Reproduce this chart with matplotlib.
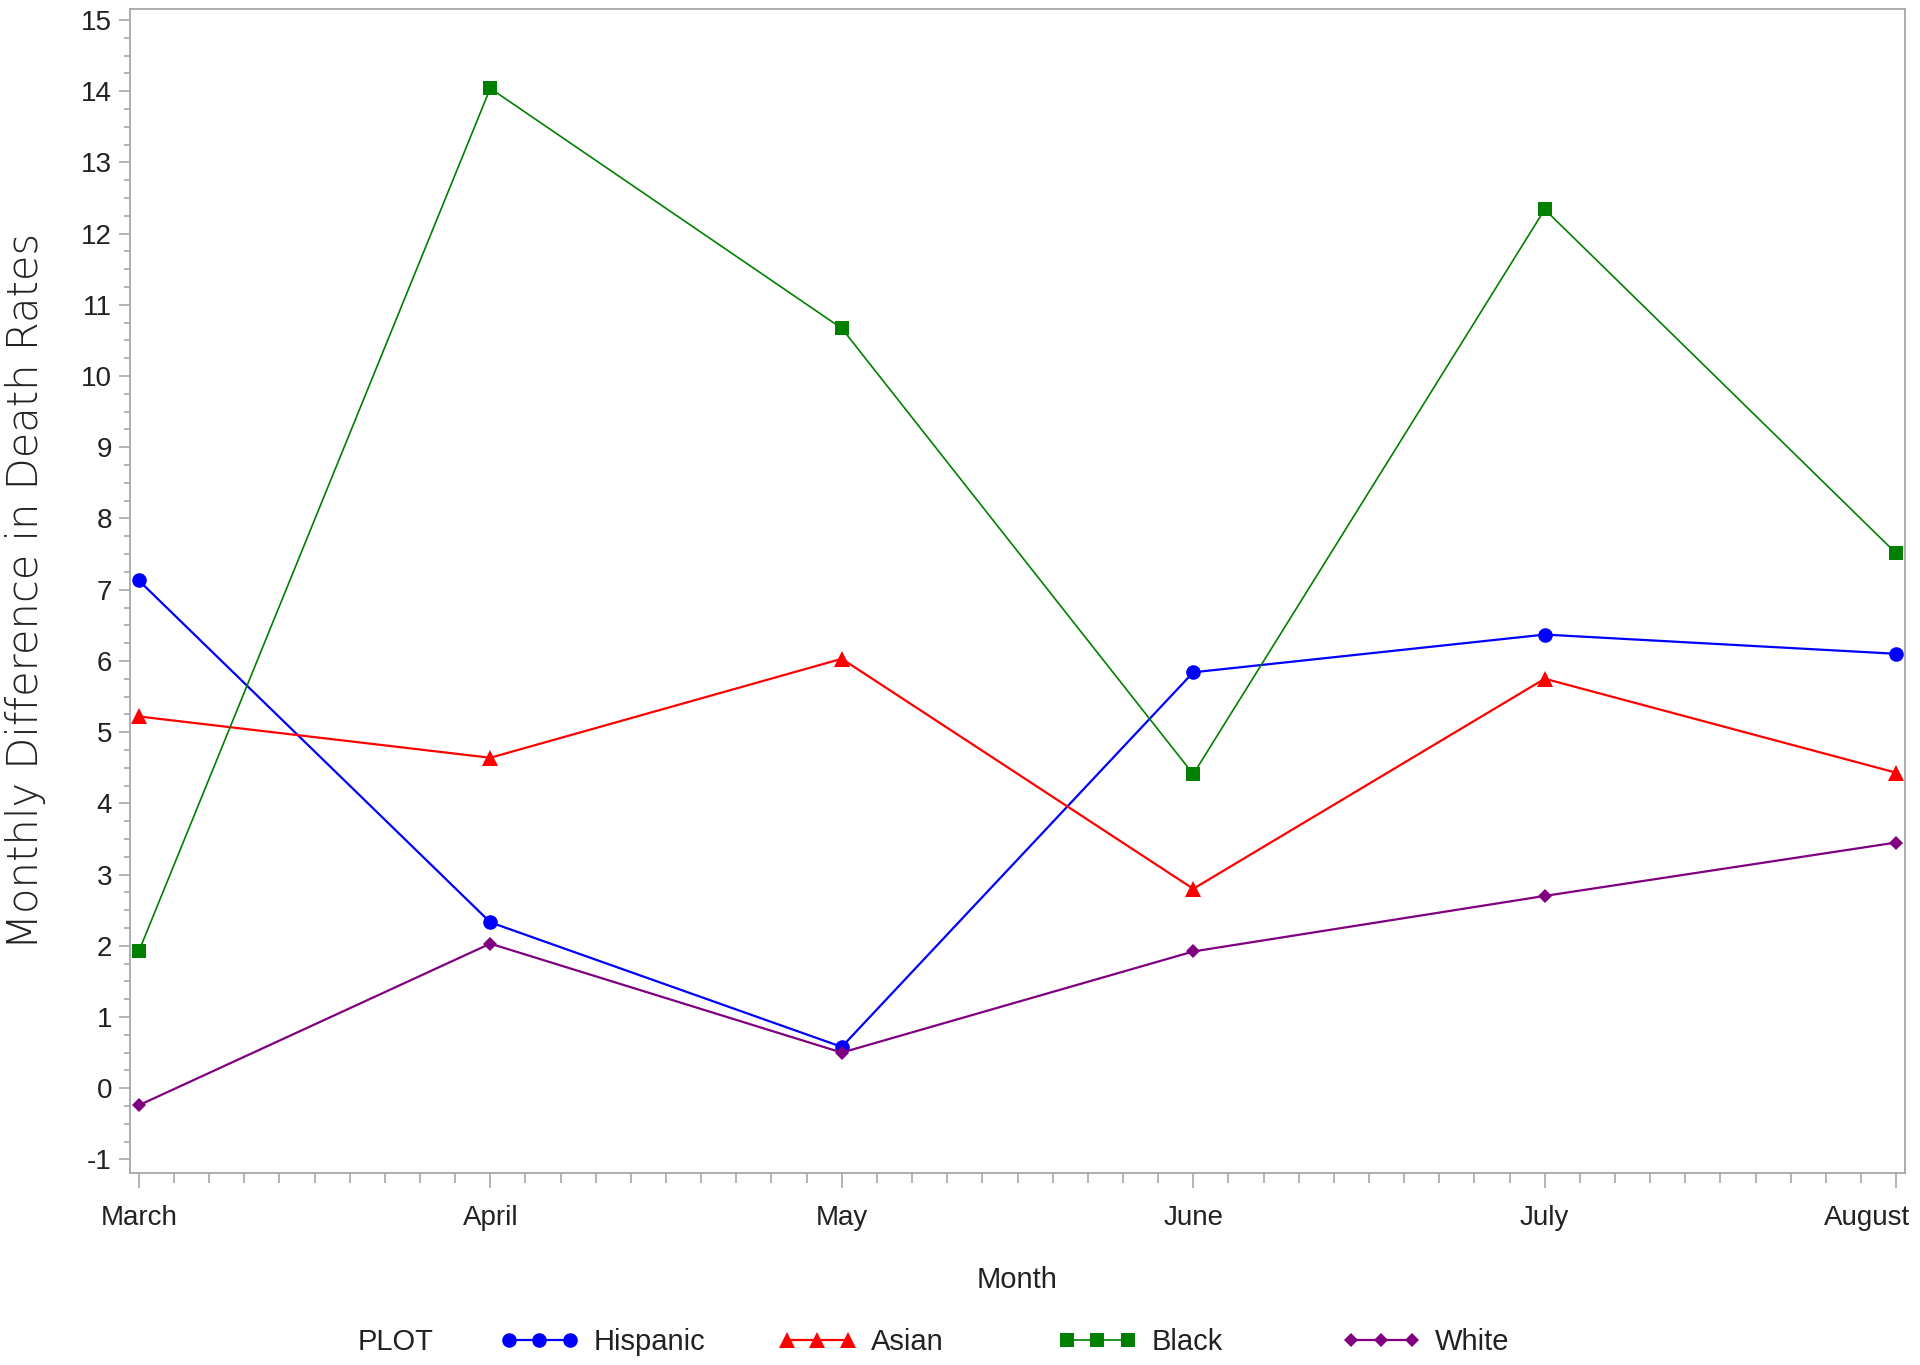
import numpy as np
import matplotlib
matplotlib.use("Agg")
import matplotlib.pyplot as plt
import matplotlib.transforms as mtransforms
from matplotlib.ticker import MultipleLocator

# data
months = ["March", "April", "May", "June", "July", "August"]
hispanic = [7.13, 2.33, 0.58, 5.84, 6.37, 6.10]
asian = [5.22, 4.64, 6.03, 2.80, 5.75, 4.43]
black = [1.92, 14.04, 10.67, 4.41, 12.34, 7.51]
white = [-0.24, 2.03, 0.50, 1.92, 2.70, 3.45]

series_names = ["Hispanic", "Asian", "Black", "White"]

plt.rcParams['font.family'] = ['Liberation Sans', 'DejaVu Sans']
plt.rcParams['axes.unicode_minus'] = False
txt = '#222222'
axis_col = '#a4a8ac'

fig = plt.figure(figsize=(19.2, 13.65), dpi=100)
ax = fig.add_axes([0.0677, 0.1407, 0.9245, 0.853])

x = np.arange(len(months))
styles = [
    dict(color='#0000ff', marker='o', ms=10.5, lw=1.6),
    dict(color='#ff0000', marker='^', ms=11, lw=1.6),
    dict(color='#008000', marker='s', ms=10.5, lw=1.2),
    dict(color='#800080', marker='D', ms=7.5, lw=1.6),
]
lines = []
for vals, st in zip([hispanic, asian, black, white], styles):
    l, = ax.plot(x, vals, color=st['color'], marker=st['marker'], markersize=st['ms'],
                 linewidth=st['lw'], markeredgewidth=0, clip_on=False, zorder=3)
    lines.append(l)

ax.set_xlim(-0.025, 5.025)
ax.set_ylim(-1.19, 15.16)
ax.set_xticks(x)
ax.set_xticklabels(months)
ax.xaxis.set_minor_locator(MultipleLocator(0.1))
ax.yaxis.set_major_locator(MultipleLocator(1))
ax.yaxis.set_minor_locator(MultipleLocator(0.25))

for sp in ax.spines.values():
    sp.set_color(axis_col)
    sp.set_linewidth(1.3)

ax.tick_params(axis='x', which='major', length=11, width=1.2, color=axis_col,
               labelsize=20, labelcolor=txt, pad=12)
ax.tick_params(axis='x', which='minor', length=7, width=1.2, color=axis_col)
ax.tick_params(axis='y', which='major', length=8, width=1.2, color=axis_col,
               labelsize=20, labelcolor=txt, pad=5)
ax.tick_params(axis='y', which='minor', length=4, width=1.2, color=axis_col)

# last month label is pushed left so it stays inside the figure
last = ax.get_xticklabels()[-1]
last.set_horizontalalignment('right')
last.set_transform(last.get_transform() + mtransforms.ScaledTranslation(14 / 100, 0, fig.dpi_scale_trans))

ax.set_ylabel("Monthly Difference in Death Rates", fontsize=30, color=txt,
              family='DejaVu Sans', fontweight='light')
ax.yaxis.set_label_coords(-0.0475, 0.5)
ax.set_xlabel("Month", fontsize=21, color=txt)
ax.xaxis.set_label_coords(0.5, -0.080)

# legend row at the bottom
fig.text(396 / 1920, 1 - 1342 / 1365, "PLOT", fontsize=21, color=txt, ha='center', va='center')
starts = [500, 778, 1058, 1342]
for l, name, xs in zip(lines, series_names, starts):
    lg = fig.legend([l], [name], loc='center left', bbox_to_anchor=(xs / 1920, 1 - 1342 / 1365),
                    frameon=False, numpoints=3, handlelength=2.7, handletextpad=0.5,
                    borderpad=0, borderaxespad=0, fontsize=21, labelcolor=txt)

fig.savefig("out.png", dpi=100)
